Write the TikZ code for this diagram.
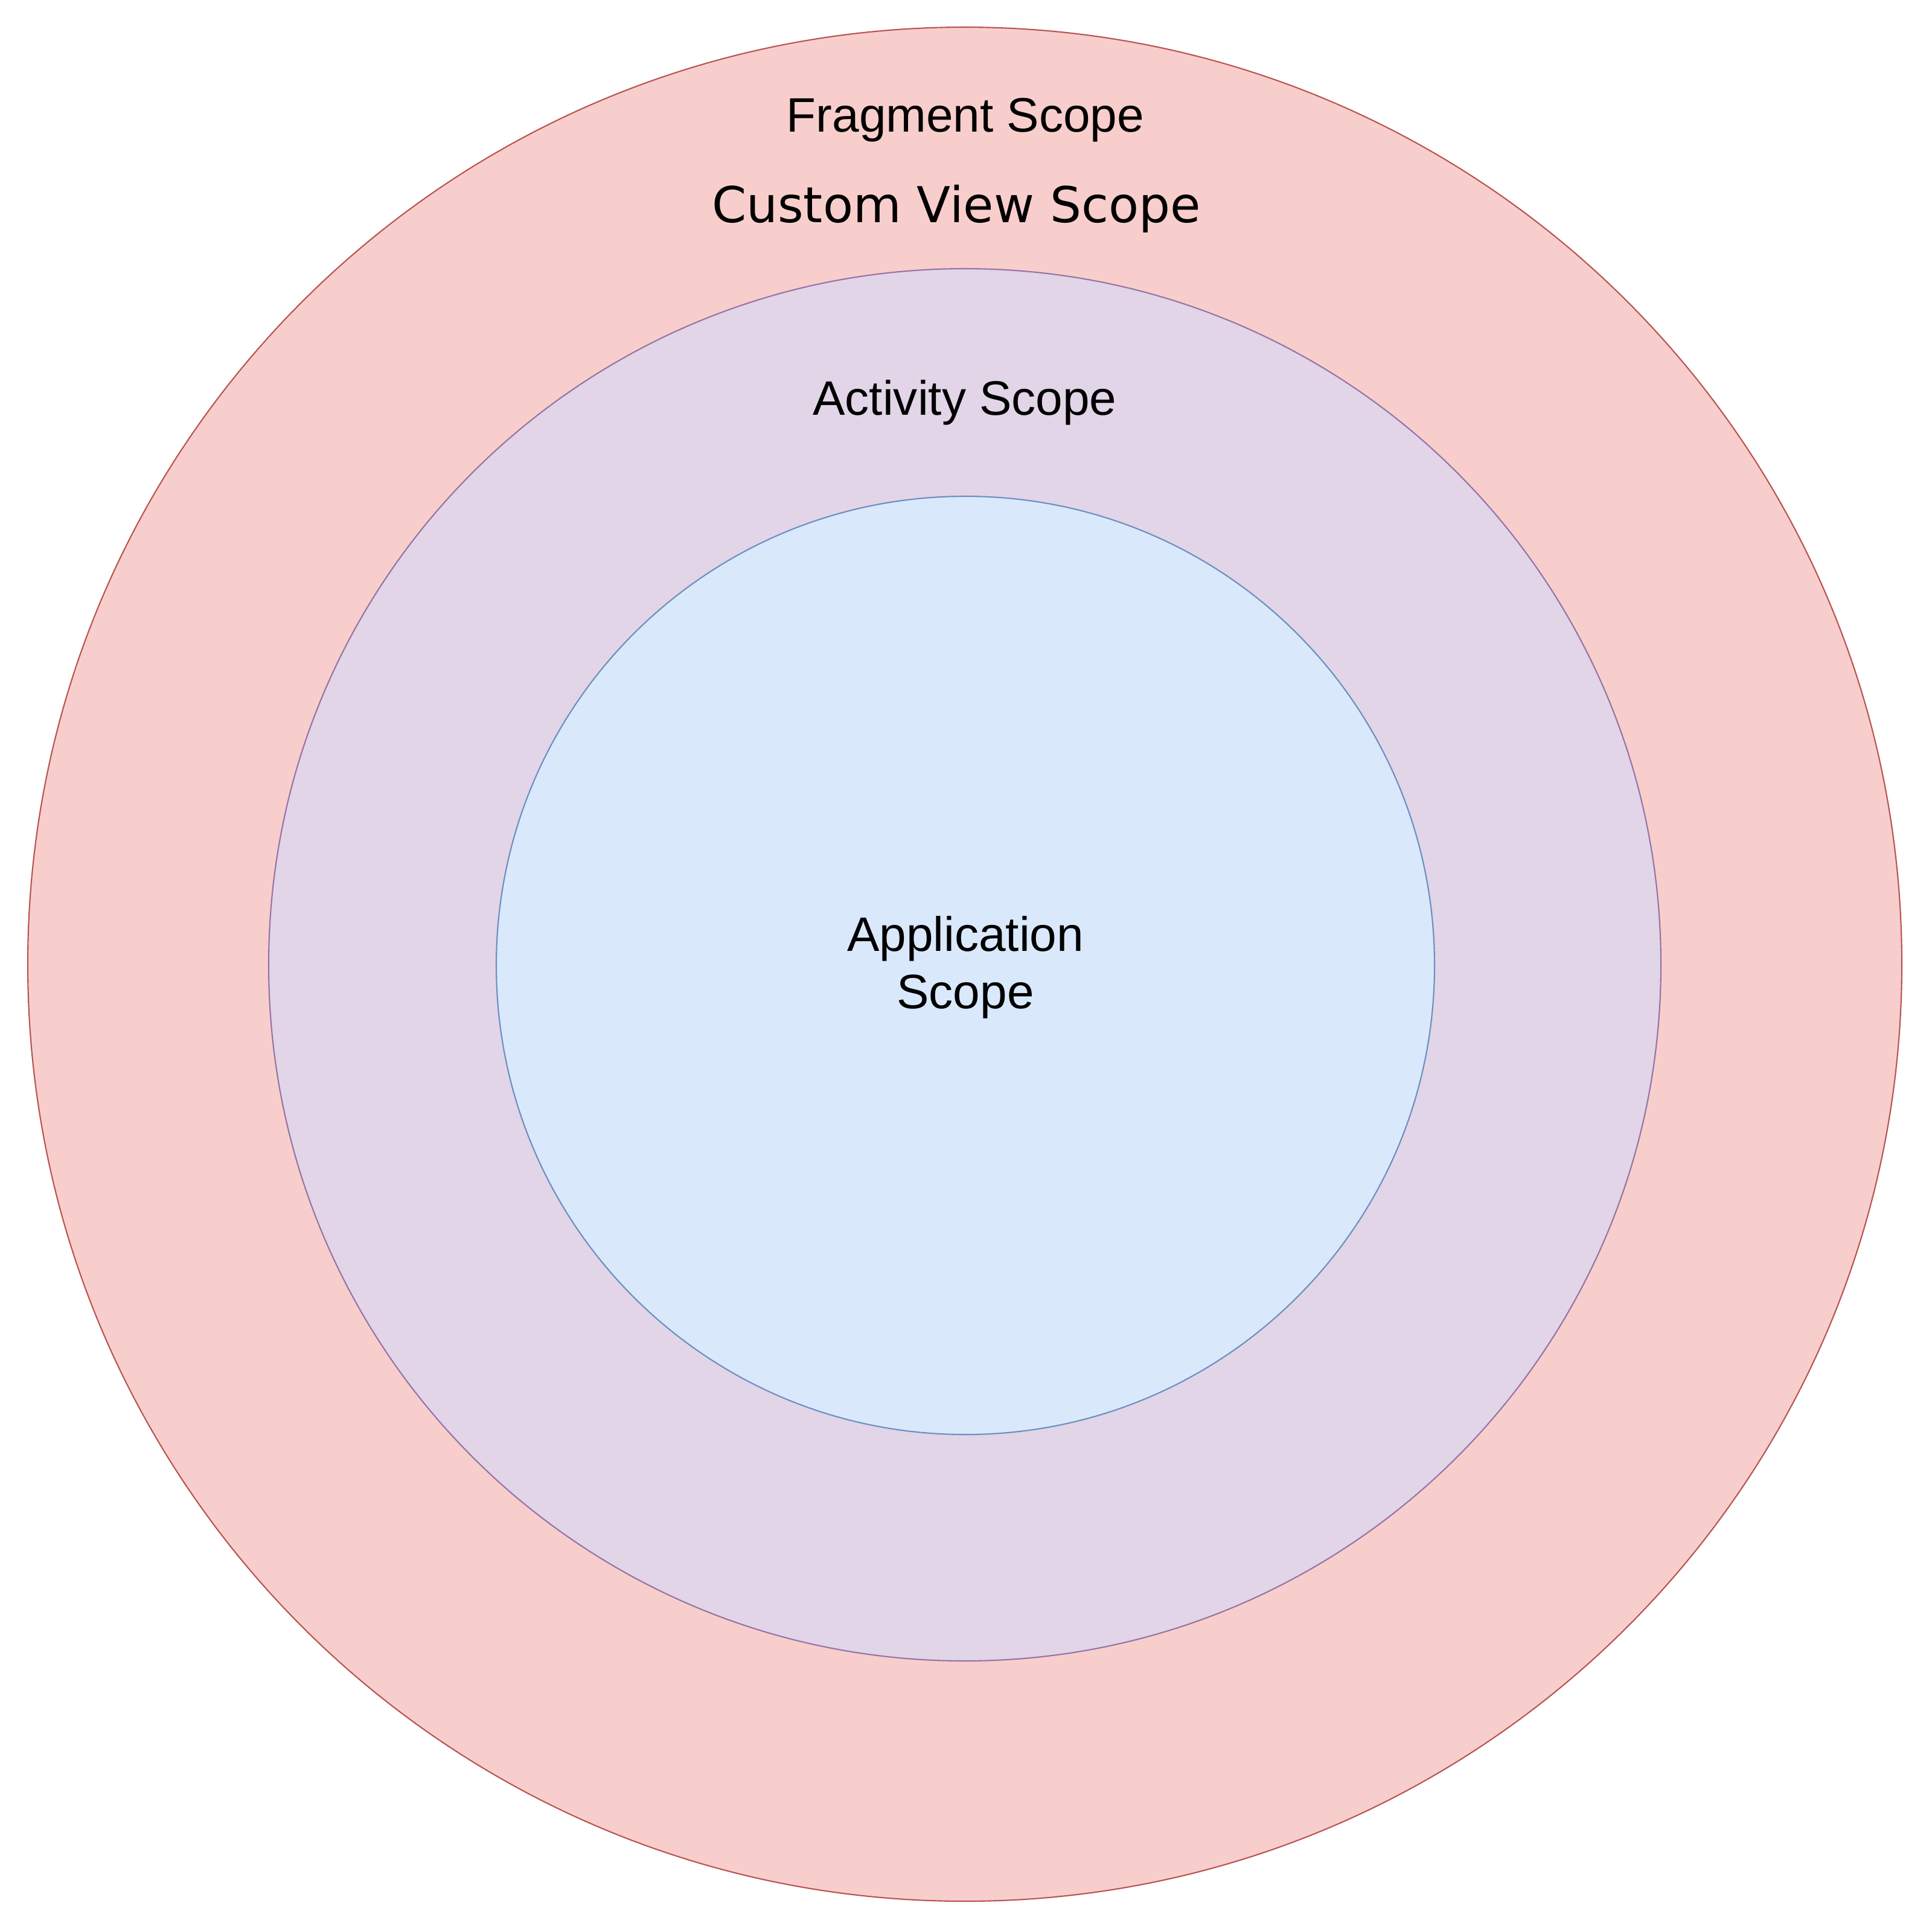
\documentclass[tikz,border=0pt]{standalone}
\usepackage{fontspec}
\setmainfont{Liberation Sans}
\newfontfamily\dejavu{DejaVu Sans}
\definecolor{redfill}{HTML}{F8CECC}
\definecolor{redline}{HTML}{B85450}
\definecolor{purplefill}{HTML}{E1D5E7}
\definecolor{purpleline}{HTML}{9673A6}
\definecolor{bluefill}{HTML}{DAE8FC}
\definecolor{blueline}{HTML}{6C8EBF}
\tikzset{
  ring/.style={circle, inner sep=0pt, line width=0.6pt},
  label/.style={inner sep=0pt, font=\fontsize{22.8pt}{27pt}\selectfont},
}
\begin{document}
\begin{tikzpicture}[x=1cm,y=1cm]
  \useasboundingbox (0,0) rectangle (32,-32);
  % nested scopes, outermost first
  \node[ring, draw=redline, fill=redfill, minimum size=31.04cm] (fragment) at (15.98,-15.97) {};
  \node[ring, draw=purpleline, fill=purplefill, minimum size=23.06cm] (activity) at (15.98,-15.98) {};
  \node[ring, draw=blueline, fill=bluefill, minimum size=15.54cm] (application) at (15.99,-15.99) {};
  % scope labels
  \node[label, anchor=base] (fraglbl) at (15.99,-2.18) {Fragment Scope};
  \node[label, anchor=base, font=\dejavu\fontsize{23.3pt}{27pt}\selectfont] (customlbl) at (15.84,-3.68) {Custom View Scope};
  \node[label, anchor=base] (actlbl) at (15.98,-6.87) {Activity Scope};
  \node[label, anchor=base, align=center] (applbl) at (15.99,-16.70) {Application\\Scope};
\end{tikzpicture}
\end{document}
